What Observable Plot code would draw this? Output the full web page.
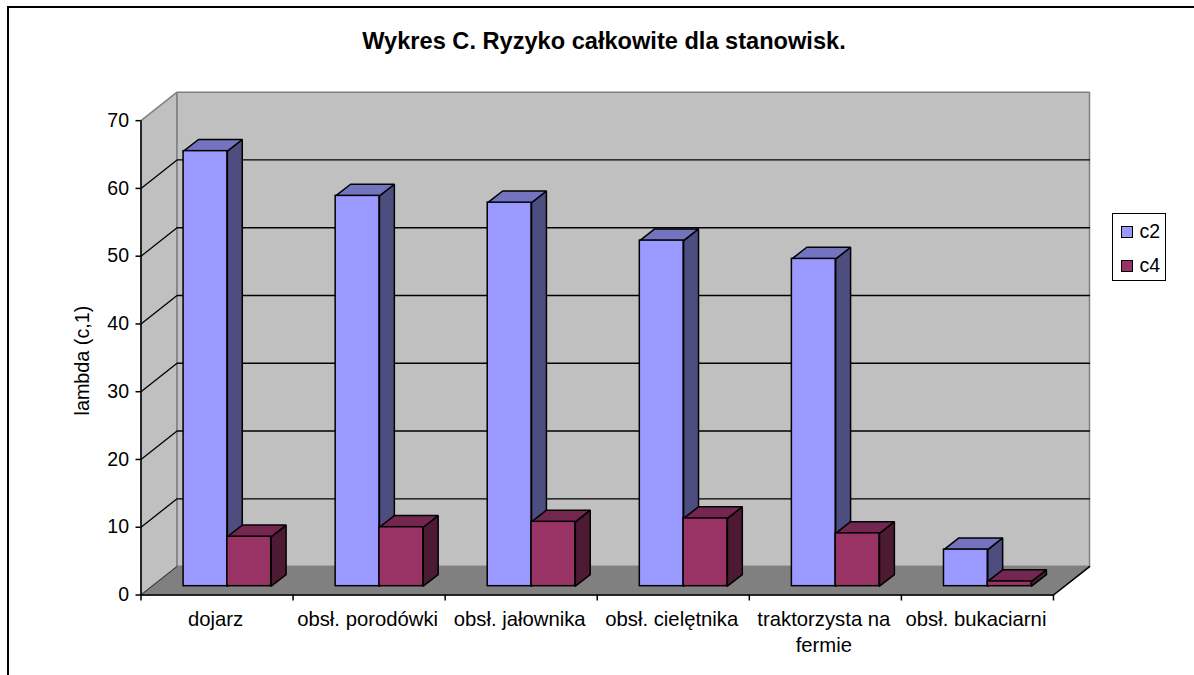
<!DOCTYPE html>
<html lang="pl">
<head>
<meta charset="utf-8">
<script src="https://cdn.jsdelivr.net/npm/d3@7"></script>
<script src="https://cdn.jsdelivr.net/npm/@observablehq/plot@0.6"></script>
<style>
html,body{margin:0;padding:0;background:#fff;overflow:hidden}
#page{position:relative;width:1194px;height:675px;font-family:"Liberation Sans",Arial,sans-serif;color:#000}
#frame{position:absolute;left:7px;top:6px;right:0;bottom:-4px;border-left:2px solid #000;border-top:2px solid #000;pointer-events:none}
#title{position:absolute;left:0;width:1208px;top:29px;text-align:center;font-weight:bold;font-size:23.6px;line-height:24px}
#legend{position:absolute;left:1112px;top:213px;width:52px;height:66px;border:1.5px solid #000;background:#fff}
.item{position:absolute;left:7.5px;font-size:19.5px;line-height:20px;padding-left:19px}
.item i{position:absolute;left:0;top:5px;width:10px;height:10px;border:1.5px solid #000}
svg{position:absolute;left:0;top:0}
</style>
</head>
<body>
<div id="page">
<div id="chart"></div>
<div id="frame"></div>
<div id="title">Wykres C. Ryzyko całkowite dla stanowisk.</div>
<div id="legend"></div>
</div>
<script>
const categories = ["dojarz","obsł. porodówki","obsł. jałownika","obsł. cielętnika","traktorzysta na\nfermie","obsł. bukaciarni"];
const c2 = [64.2,57.6,56.6,51.0,48.3,5.4];
const c4 = [7.3,8.7,9.5,10.0,7.8,0.7];
const seriesNames = ["c2","c4"];
const yTicks = [0,10,20,30,40,50,60,70];
const fills = {c2:{front:"#9999ff",top:"#7373bf",side:"#4d4d80"},c4:{front:"#993366",top:"#732650",side:"#4d1a33"}};

// oblique projection, in data units
const wallX = 0.237, wallY = 4.2;      // depth of floor
const insetX = 0.072, insetY = 1.3;    // front of bars from front of floor
const depthX = 0.098, depthY = 1.72;   // depth of a bar
const barStart = 0.208, barW = 0.288;  // first bar in a category and bar width
const yMax = 70, n = categories.length;

function poly(id, pts, fill){ return pts.concat([pts[0]]).map(([x,y]) => ({id,x,y,fill})); }

function bars(values, offset){
  return values.map((v,i) => ({
    x1:i+barStart+offset*barW+insetX, x2:i+barStart+(offset+1)*barW+insetX,
    y1:insetY, y2:v+insetY
  }));
}
function faces(rows, name){
  const c = fills[name];
  return rows.flatMap((b,i) => [
    ...poly(name+"s"+i,[[b.x2,b.y1],[b.x2+depthX,b.y1+depthY],[b.x2+depthX,b.y2+depthY],[b.x2,b.y2]],c.side),
    ...poly(name+"t"+i,[[b.x1,b.y2],[b.x2,b.y2],[b.x2+depthX,b.y2+depthY],[b.x1+depthX,b.y2+depthY]],c.top)
  ]);
}
const barsC2 = bars(c2,0), barsC4 = bars(c4,1);

const walls = [
  ...poly("left",[[0,0],[wallX,wallY],[wallX,yMax+wallY],[0,yMax]],"#c0c0c0"),
  ...poly("back",[[wallX,wallY],[n+wallX,wallY],[n+wallX,yMax+wallY],[wallX,yMax+wallY]],"#c0c0c0"),
  ...poly("floor",[[0,0],[n,0],[n+wallX,wallY],[wallX,wallY]],"#808080")
];
const grid = yTicks.slice(1,-1).flatMap(t => [
  {id:t,x:0,y:t},{id:t,x:wallX,y:t+wallY},{id:t,x:n+wallX,y:t+wallY}
]);

const plot = Plot.plot({
  width:1194, height:675,
  marginLeft:140.5, marginRight:105, marginTop:91.7, marginBottom:80.5,
  style:{fontFamily:'"Liberation Sans",Arial,sans-serif',background:"transparent",color:"#000",overflow:"visible"},
  x:{domain:[0,n+wallX],axis:null},
  y:{domain:[0,yMax+wallY],axis:null},
  marks:[
    Plot.line(walls,{x:"x",y:"y",z:"id",fill:"fill",stroke:"#808080",strokeWidth:1.5,strokeLinejoin:"miter"}),
    Plot.line(grid,{x:"x",y:"y",z:"id",stroke:"#000",strokeWidth:1.3}),
    Plot.line([{x:n,y:0},{x:n+wallX,y:wallY}],{x:"x",y:"y",stroke:"#000",strokeWidth:1.5}),
    Plot.line([{x:0,y:0},{x:wallX,y:wallY}],{x:"x",y:"y",stroke:"#333",strokeWidth:1}),
    Plot.ruleX([0],{y1:0,y2:yMax,stroke:"#000",strokeWidth:1.5}),
    Plot.ruleY([0],{x1:0,x2:n,stroke:"#000",strokeWidth:1.5}),
    Plot.line(faces(barsC2,"c2"),{x:"x",y:"y",z:"id",fill:"fill",stroke:"#000",strokeWidth:1.5,strokeLinejoin:"miter"}),
    Plot.rect(barsC2,{x1:"x1",x2:"x2",y1:"y1",y2:"y2",fill:fills.c2.front,stroke:"#000",strokeWidth:1.5}),
    Plot.line(faces(barsC4,"c4"),{x:"x",y:"y",z:"id",fill:"fill",stroke:"#000",strokeWidth:1.5,strokeLinejoin:"miter"}),
    Plot.rect(barsC4,{x1:"x1",x2:"x2",y1:"y1",y2:"y2",fill:fills.c4.front,stroke:"#000",strokeWidth:1.5}),
    Plot.axisY({ticks:yTicks,tickSize:5,tickPadding:7,fontSize:19.5,label:null,stroke:"#000",strokeWidth:1.5,tickFormat:d=>d}),
    Plot.axisX({ticks:d3.range(n+1),tickSize:6,tickFormat:()=>"",label:null,stroke:"#000",strokeWidth:1.5}),
    Plot.axisX({ticks:d3.range(n).map(i=>i+0.5),tickSize:0,tickPadding:12,fontSize:20.3,dx:-1.5,label:null,lineHeight:1.3,lineAnchor:"top",
      tickFormat:d=>categories[Math.floor(d)]}),
    Plot.text(["lambda (c,1)"],{text:d=>d,y:()=>34.6,frameAnchor:"left",dx:-58,rotate:-90,fontSize:19.8,textAnchor:"middle"})
  ]
});
document.getElementById("chart").append(plot);

const legend = document.getElementById("legend");
seriesNames.forEach((s,i)=>{
  const d = document.createElement("div");
  d.className="item"; d.style.top=(7+i*34)+"px";
  const sw = document.createElement("i"); sw.style.background=fills[s].front;
  d.append(sw, document.createTextNode(s));
  legend.append(d);
});
</script>
</body>
</html>
